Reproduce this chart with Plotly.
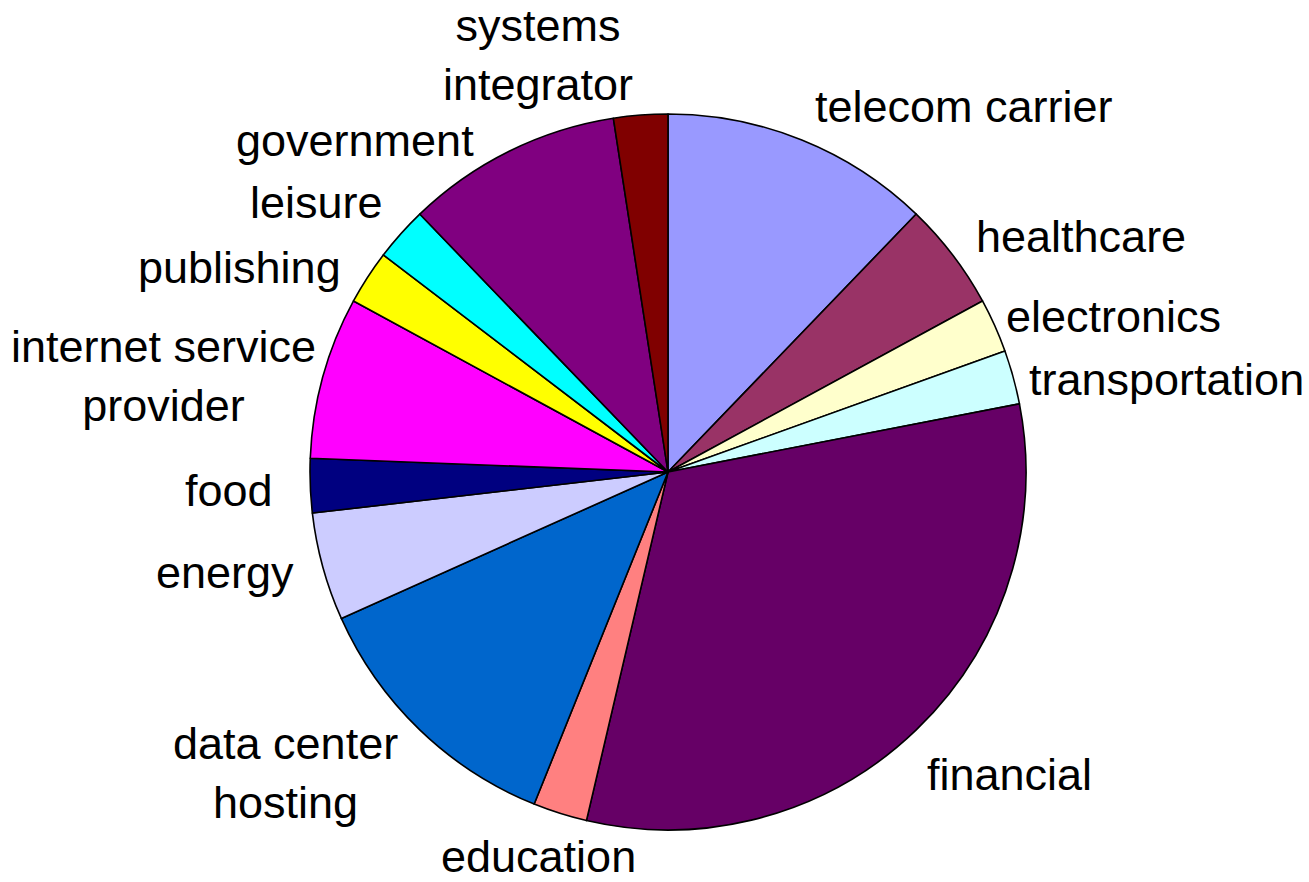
import math
import plotly.graph_objects as go

# Industry breakdown (number of organisations per sector), clockwise from 12 o'clock
sectors = [
    "telecom carrier", "healthcare", "electronics", "transportation", "financial",
    "education", "data center<br>hosting", "energy", "food",
    "internet service<br>provider", "publishing", "leisure", "government",
    "systems<br>integrator",
]
counts = [5, 2, 1, 1, 13, 1, 5, 2, 1, 3, 1, 1, 4, 1]
colors = [
    "#9999FF", "#993366", "#FFFFCC", "#CCFFFF", "#660066",
    "#FF8080", "#0066CC", "#CCCCFF", "#000080",
    "#FF00FF", "#FFFF00", "#00FFFF", "#800080", "#800000",
]
# label anchor side and fine pixel nudges (dx, dy; dy positive = down)
label_anchor = ["left", "left", "left", "left", "left", "center", "right",
                "right", "right", "right", "right", "right", "right", "right"]
label_nudge = [(-2, 0), (-7, 3), (-23, 6), (-21, 12), (-16, 19), (-11, 9),
               (5, 17), (8, -4), (1, 3), (30, 8), (6, 10), (11, -7),
               (-17, 21), (-3, -24)]

W, H = 1309, 882
cx, cy, r = 668, 472, 358  # pie centre and radius in pixels (from top-left)

fig = go.Figure(go.Pie(
    labels=sectors,
    values=counts,
    sort=False,
    direction="clockwise",
    rotation=0,
    marker=dict(colors=colors, line=dict(color="black", width=1.6)),
    textinfo="none",
    hoverinfo="label+value+percent",
    showlegend=False,
    domain=dict(x=[(cx - r) / W, (cx + r) / W],
                y=[(H - cy - r) / H, (H - cy + r) / H]),
))

total = sum(counts)
cum = 0
annotations = []
for name, n, anchor, (dx, dy) in zip(sectors, counts, label_anchor, label_nudge):
    mid = (cum + n / 2) / total * 2 * math.pi
    cum += n
    px = cx + 1.1 * r * math.sin(mid) + dx
    py = cy - 1.1 * r * math.cos(mid) + dy
    annotations.append(dict(
        x=px / W, y=1 - py / H, xref="paper", yref="paper",
        text=name, showarrow=False, xanchor=anchor, yanchor="middle",
        align="center",
        font=dict(family="Liberation Sans, Arial, sans-serif", size=45, color="black"),
    ))

fig.update_layout(
    width=W, height=H,
    margin=dict(l=0, r=0, t=0, b=0),
    paper_bgcolor="white",
    plot_bgcolor="white",
    annotations=annotations,
)

fig.write_html("out.html")
